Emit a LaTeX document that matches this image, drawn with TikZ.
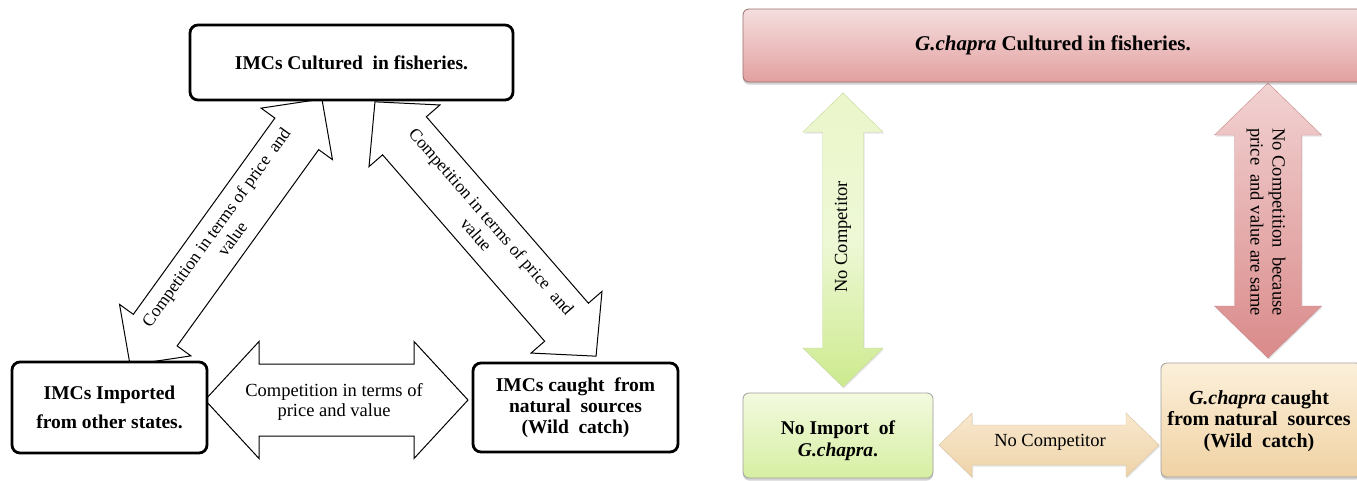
\documentclass[tikz,border=0pt]{standalone}
\usepackage{fontspec}
\setmainfont{Liberation Serif}
\usetikzlibrary{shadows}
\definecolor{pinkT}{HTML}{F5DEDE}
\definecolor{pinkB}{HTML}{E3A0A0}
\definecolor{pinkD}{HTML}{9A7070}
\definecolor{parT}{HTML}{F2D2D2}
\definecolor{parB}{HTML}{DA8A8A}
\definecolor{grnT}{HTML}{F3FADF}
\definecolor{grnB}{HTML}{D6EFA2}
\definecolor{garT}{HTML}{EBF6CA}
\definecolor{garM}{HTML}{EEF8D6}
\definecolor{garB}{HTML}{CDEA8E}
\definecolor{begT}{HTML}{FCF0DA}
\definecolor{begB}{HTML}{F0D2A4}
\definecolor{barT}{HTML}{F8E8CF}
\definecolor{barB}{HTML}{EED3A8}
\definecolor{grayD}{HTML}{A0A0A0}
% block double arrow: style, cx, cy, angle, length, head width, shaft width, head length
\newcommand{\blkarrow}[8]{%
  \begin{scope}[shift={(#2,#3)}, rotate=#4]
    \path[#1] ({-#5/2},0) -- ({-#5/2+#8},{#6/2}) -- ({-#5/2+#8},{#7/2}) -- ({#5/2-#8},{#7/2})
      -- ({#5/2-#8},{#6/2}) -- ({#5/2},0) -- ({#5/2-#8},{-#6/2}) -- ({#5/2-#8},{-#7/2})
      -- ({-#5/2+#8},{-#7/2}) -- ({-#5/2+#8},{-#6/2}) -- cycle;
  \end{scope}}
% vertical block double arrow: style, cx, cy, length, head width, shaft width, head length
\newcommand{\vblkarrow}[7]{%
  \path[#1] (#2,{#3-#4/2}) -- ({#2+#5/2},{#3-#4/2+#7}) -- ({#2+#6/2},{#3-#4/2+#7})
    -- ({#2+#6/2},{#3+#4/2-#7}) -- ({#2+#5/2},{#3+#4/2-#7}) -- (#2,{#3+#4/2})
    -- ({#2-#5/2},{#3+#4/2-#7}) -- ({#2-#6/2},{#3+#4/2-#7}) -- ({#2-#6/2},{#3-#4/2+#7})
    -- ({#2-#5/2},{#3-#4/2+#7}) -- cycle;}
\tikzset{
  lbox/.style={draw=black, line width=2.8pt, rounded corners=8pt, fill=white, inner sep=0pt,
    align=center, font=\bfseries\fontsize{19.5}{21}\selectfont},
  larrow/.style={draw=black, line width=1pt, fill=white},
  atext/.style={align=center, inner sep=0pt, font=\fontsize{17.5}{20}\selectfont},
  rtext/.style={align=center, inner sep=0pt, font=\fontsize{18.5}{22}\selectfont},
  rbtext/.style={align=center, inner sep=0pt, font=\bfseries\fontsize{20}{21.5}\selectfont},
  rbox/.style={rounded corners=6pt, inner sep=0pt, line width=0.8pt,
    drop shadow={shadow xshift=0pt, shadow yshift=-2.5pt, opacity=0.35}},
  garrow/.style={top color=garT, bottom color=garB, middle color=garM, draw=grnB!80!gray, line width=0.4pt,
    drop shadow={shadow xshift=1pt, shadow yshift=-1.5pt, opacity=0.2}},
  parrow/.style={top color=parT, bottom color=parB, draw=parB!80!gray, line width=0.4pt,
    drop shadow={shadow xshift=1pt, shadow yshift=-1.5pt, opacity=0.2}},
  barrow/.style={top color=barT, bottom color=barB, draw=barB!80!gray, line width=0.4pt,
    drop shadow={shadow xshift=1pt, shadow yshift=-1.5pt, opacity=0.2}},
}
\begin{document}
\begin{tikzpicture}[x=1pt, y=-1pt]
\useasboundingbox (0,0) rectangle (1357,480);
\clip (0,0) rectangle (1357,480);
\fill[white] (0,0) rectangle (1357,480);
% ---------------- left panel ----------------
\blkarrow{larrow}{226}{232}{54.2}{328}{88}{54}{43}
\blkarrow{larrow}{485.5}{229}{-49}{337}{94}{58}{45}
\blkarrow{larrow}{336.5}{400}{0}{263}{117}{72}{54}
\node[atext, rotate=54.2] (ltxt) at (224,233) {Competition in terms of price\ \ and\\value};
\node[atext, rotate=-49] (rtxt) at (484,228) {Competition in terms of price\ \ and\\value};
\node[atext, font=\fontsize{18.5}{20}\selectfont] (htxt) at (334,402) {Competition in terms of\\price and value};
\node[lbox, minimum width=323pt, minimum height=75pt] (ltop) at (351.5,62.5) {IMCs Cultured\ \ in fisheries.};
\node[lbox, minimum width=195pt, minimum height=91pt, font=\bfseries\fontsize{19.5}{29}\selectfont] (limp) at (109.5,407.5) {IMCs Imported\\from other states.};
\node[lbox, minimum width=205pt, minimum height=89pt] (lwild) at (575.5,407.5) {IMCs caught\ \ from\\natural\ \ sources\\(Wild\ \ catch)};
% ---------------- right panel ----------------
\vblkarrow{garrow}{843}{240}{294}{80}{41}{39}
\vblkarrow{parrow}{1268}{220.5}{275}{107}{67}{52}
\blkarrow{barrow}{1049}{445}{0}{220}{64}{40}{33}
\node[rtext, rotate=90] (gtxt) at (843,237) {No Competitor};
\node[rtext, rotate=-90] (ptxt) at (1266,222) {No Competition\ \ because\\price\ \ and value are same};
\node[rtext] (btxt) at (1050,442) {No Competitor};
\node[rbox, top color=pinkT, bottom color=pinkB, draw=pinkD, minimum width=620pt, minimum height=73pt,
  font=\bfseries\fontsize{21}{24}\selectfont] (rtop) at (1053,45.5) {\textit{G.chapra} Cultured in fisheries.};
\node[rbox, top color=grnT, bottom color=grnB, draw=grayD, minimum width=190pt, minimum height=85pt] (rimp) at (838,435.5) {};
\node[rbtext, font=\bfseries\fontsize{19.5}{22}\selectfont] (rimptxt) at (838,441) {No Import\ \ of\\\textit{G.chapra}.};
\node[rbox, top color=begT, bottom color=begB, draw=grayD, minimum width=201pt, minimum height=114pt] (rwild) at (1261.5,420) {};
\node[rbtext] (rwildtxt) at (1259,421) {\textit{G.chapra} caught\\from natural\ \ sources\\(Wild\ \ catch)};
\end{tikzpicture}
\end{document}
